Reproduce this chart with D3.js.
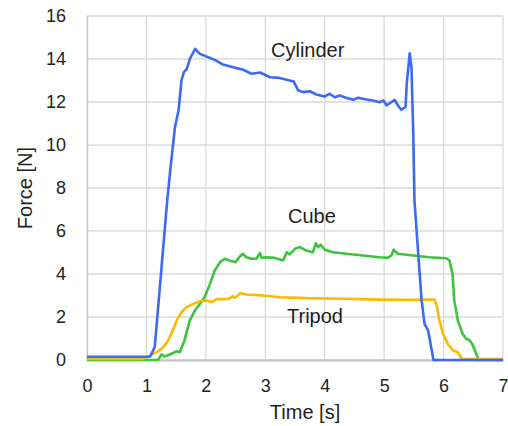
<!DOCTYPE html>
<html>
<head>
<meta charset="utf-8">
<script src="https://cdn.jsdelivr.net/npm/d3@7"></script>
<style>
  body { margin: 0; background: #fff; }
  text { font-family: "Liberation Sans", Arial, sans-serif; fill: #231f20; }
</style>
</head>
<body>
<div id="chart"></div>
<script>
// [time s, force N]
const cylinder = [[0, 0.15], [1.06, 0.15], [1.09, 0.32], [1.14, 0.6], [1.35, 7.42], [1.4, 8.81], [1.48, 10.83],
  [1.54, 11.6], [1.59, 13.0], [1.63, 13.39], [1.68, 13.54], [1.73, 14.0], [1.82, 14.47], [1.9, 14.24],
  [2.01, 14.12], [2.15, 13.96], [2.29, 13.74], [2.46, 13.62], [2.63, 13.5], [2.77, 13.31], [2.91, 13.37],
  [3.08, 13.15], [3.24, 13.12], [3.41, 13.0], [3.48, 12.95], [3.55, 12.55], [3.64, 12.46], [3.75, 12.5],
  [3.86, 12.35], [4.0, 12.26], [4.08, 12.38], [4.17, 12.22], [4.25, 12.3], [4.36, 12.2], [4.48, 12.1],
  [4.56, 12.2], [4.7, 12.12], [4.81, 12.07], [4.92, 11.99], [4.99, 12.07], [5.04, 11.84], [5.09, 11.94],
  [5.18, 12.1], [5.23, 11.84], [5.29, 11.64], [5.36, 11.76], [5.38, 12.85], [5.43, 14.27], [5.46, 13.62],
  [5.49, 10.52], [5.51, 7.42], [5.57, 5.09], [5.63, 2.77], [5.68, 1.68], [5.74, 1.37], [5.83, 0], [7, 0]]

const cube = [[0, 0], [1.2, 0.01], [1.255, 0.26], [1.31, 0.16], [1.42, 0.29], [1.51, 0.41], [1.56, 0.36],
  [1.64, 0.91], [1.73, 1.84], [1.815, 2.3], [1.9, 2.61], [1.98, 2.92], [2.07, 3.54], [2.15, 4.16],
  [2.24, 4.55], [2.32, 4.71], [2.4, 4.63], [2.5, 4.55], [2.56, 4.78], [2.62, 4.94], [2.68, 4.78],
  [2.77, 4.71], [2.85, 4.71], [2.91, 4.97], [2.94, 4.75], [3.02, 4.78], [3.16, 4.75], [3.3, 4.63],
  [3.36, 5.01], [3.41, 4.91], [3.5, 5.17], [3.58, 5.25], [3.69, 5.09], [3.8, 5.01], [3.85, 5.43],
  [3.89, 5.25], [3.93, 5.37], [4.0, 5.13], [4.14, 5.01], [4.36, 4.94], [4.64, 4.86], [4.92, 4.78],
  [5.06, 4.75], [5.12, 4.86], [5.16, 5.13], [5.23, 4.94], [5.49, 4.86], [5.76, 4.78], [6.05, 4.73],
  [6.1, 4.63], [6.15, 4.01], [6.18, 2.77], [6.24, 1.84], [6.32, 1.22], [6.38, 0.99], [6.44, 0.91],
  [6.48, 0.75], [6.55, 0.29], [6.59, 0], [7, 0]]

const tripod = [[0, 0.05], [0.92, 0.05], [1.03, 0.16], [1.14, 0.32], [1.255, 0.52], [1.35, 0.83],
  [1.42, 1.22], [1.51, 1.84], [1.59, 2.22], [1.675, 2.46], [1.79, 2.61], [1.9, 2.73], [2.01, 2.77],
  [2.1, 2.69], [2.18, 2.83], [2.29, 2.83], [2.39, 2.85], [2.45, 2.97], [2.49, 2.89], [2.58, 3.11],
  [2.68, 3.05], [2.96, 3.0], [3.24, 2.92], [3.55, 2.89], [3.8, 2.87], [4.36, 2.85], [4.92, 2.81],
  [5.48, 2.8], [5.85, 2.81], [5.89, 2.46], [5.93, 1.84], [5.99, 1.22], [6.07, 0.75], [6.16, 0.44],
  [6.24, 0.36], [6.31, 0.05], [7, 0.05]]

const xTicks = [0, 1, 2, 3, 4, 5, 6, 7]
const yTicks = [0, 2, 4, 6, 8, 10, 12, 14, 16]

const series = [
  { name: 'Cube', values: cube, color: '#3cc43c', label: [288, 223] },
  { name: 'Tripod', values: tripod, color: '#fcb900', label: [287, 323] },
  { name: 'Cylinder', values: cylinder, color: '#3b6af6', label: [271, 57] }
]

const margin = { top: 16, right: 5, bottom: 66, left: 87 }
const width = 508 - margin.left - margin.right
const height = 426 - margin.top - margin.bottom

const svg = d3.select('#chart')
  .append('svg')
  .attr('width', 508)
  .attr('height', 426)
  .append('g')
  .attr('transform', `translate(${margin.left},${margin.top})`)

const x = d3.scaleLinear().domain([0, 7]).range([0, width])
const y = d3.scaleLinear().domain([0, 16]).range([height, 0])

// grid
svg.append('g')
  .selectAll('line.v')
  .data(xTicks)
  .enter().append('line')
  .attr('x1', d => x(d)).attr('x2', d => x(d))
  .attr('y1', 0).attr('y2', height)
  .attr('stroke', '#d9d9d9')
  .attr('stroke-width', 1.3)

svg.append('g')
  .selectAll('line.h')
  .data(yTicks)
  .enter().append('line')
  .attr('x1', 0).attr('x2', width)
  .attr('y1', d => y(d)).attr('y2', d => y(d))
  .attr('stroke', '#d9d9d9')
  .attr('stroke-width', 1.3)

// axes
const xAxis = svg.append('g')
  .attr('transform', `translate(0,${height})`)
  .call(d3.axisBottom(x).tickValues(xTicks).tickSize(0).tickPadding(19).tickFormat(d3.format('d')))
xAxis.select('.domain').attr('stroke', '#c4c4c4').attr('stroke-width', 2)
xAxis.selectAll('text').style('font-size', '18px')

const yAxis = svg.append('g')
  .call(d3.axisLeft(y).tickValues(yTicks).tickSize(0).tickPadding(21).tickFormat(d3.format('d')))
yAxis.select('.domain').attr('stroke', '#cccccc').attr('stroke-width', 1.5)
yAxis.selectAll('text').style('font-size', '18px')

svg.append('text')
  .attr('x', 218)
  .attr('y', height + 59)
  .style('text-anchor', 'middle')
  .style('font-size', '20px')
  .text('Time [s]')

svg.append('text')
  .attr('transform', 'rotate(-90)')
  .attr('x', -height / 2)
  .attr('y', -55)
  .style('text-anchor', 'middle')
  .style('font-size', '20px')
  .text('Force [N]')

// lines
const line = d3.line()
  .x(d => x(d[0]))
  .y(d => y(d[1]))

series.forEach(s => {
  svg.append('path')
    .datum(s.values)
    .attr('fill', 'none')
    .attr('stroke', s.color)
    .attr('stroke-width', 2.6)
    .attr('stroke-linejoin', 'round')
    .attr('d', line)

  svg.append('text')
    .attr('x', s.label[0] - margin.left)
    .attr('y', s.label[1] - margin.top)
    .style('font-size', '20px')
    .text(s.name)
})
</script>
</body>
</html>
